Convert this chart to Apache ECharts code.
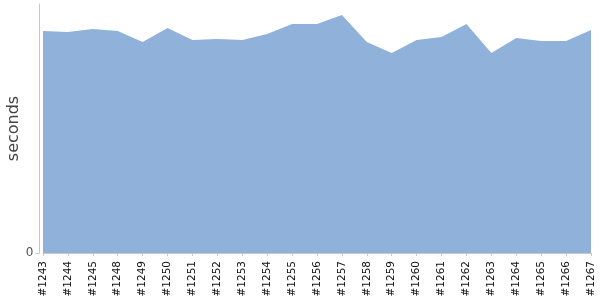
<!DOCTYPE html>
<html><head><meta charset="utf-8">
<script src="https://cdn.jsdelivr.net/npm/echarts@6/dist/echarts.min.js"></script>
<style>html,body{margin:0;padding:0;background:#fff}#c{width:600px;height:300px}</style>
</head><body><div id="c"></div>
<script>
const categories = ['#1243','#1244','#1245','#1248','#1249','#1250','#1251','#1252','#1253','#1254','#1255','#1256','#1257','#1258','#1259','#1260','#1261','#1262','#1263','#1264','#1265','#1266','#1267'];
const seconds = [222,221,224,222,211,225,213,214,213,219,229,229,238,211,200,213,216,229,200,215,212,212,223];
const yMax = 249;

const chart = echarts.init(document.getElementById('c'));
chart.setOption({
  animation: false,
  grid: {left: 43, right: 9, top: 4, bottom: 47, containLabel: false, outerBoundsMode: 'none'},
  xAxis: {
    type: 'category', data: categories, boundaryGap: false, offset: 4,
    axisLine: {lineStyle: {color: '#c8c8c8'}},
    axisTick: {length: 3, alignWithLabel: true, lineStyle: {color: '#c8c8c8'}},
    axisLabel: {rotate: 90, interval: 0, fontSize: 10.5, color: '#111', fontFamily: 'DejaVu Sans', margin: 4}
  },
  yAxis: {
    type: 'value', min: 0, max: yMax, interval: 1000, offset: 3.5,
    name: 'seconds', nameLocation: 'middle', nameGap: 18, nameMoveOverlap: false,
    nameTextStyle: {fontSize: 16, color: '#444', fontFamily: 'DejaVu Sans'},
    axisLine: {show: true, lineStyle: {color: '#c8c8c8'}},
    axisTick: {show: true, length: 4, lineStyle: {color: '#c8c8c8'}},
    axisLabel: {color: '#555', fontSize: 12, fontFamily: 'DejaVu Sans', margin: 6, showMaxLabel: false,
      formatter: v => (v === 0 ? '0' : '')},
    splitLine: {show: false}
  },
  series: [{
    type: 'line', data: seconds, symbol: 'none',
    lineStyle: {width: 0},
    areaStyle: {color: '#8fb1da', opacity: 1}
  }]
});
</script></body></html>
